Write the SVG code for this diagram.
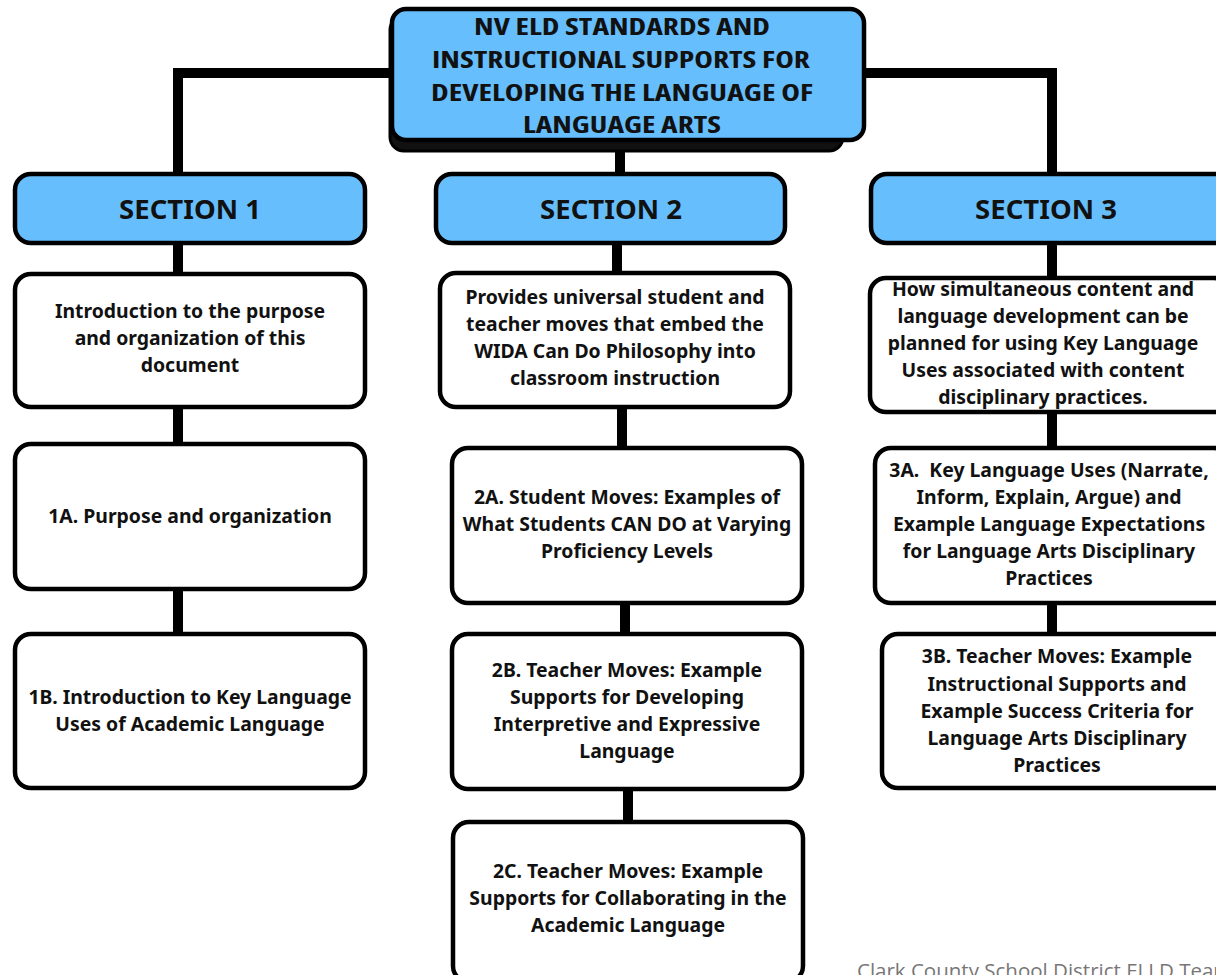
<svg xmlns="http://www.w3.org/2000/svg" width="1216" height="975" viewBox="0 0 1216 975">
<style>
.conn{stroke:#000;stroke-width:10;fill:none;stroke-linecap:square}
.blue{fill:#66BEFD;stroke:#000;stroke-width:4.5}
.white{fill:#fff;stroke:#000;stroke-width:4.5}
.t{font-family:"Noto Sans","Open Sans",sans-serif;font-weight:700;font-size:19.4px;fill:#111;text-anchor:middle}
.sec{font-family:"Noto Sans","Open Sans",sans-serif;font-weight:700;font-size:27.5px;fill:#111;text-anchor:middle}
.title{font-family:"Open Sans","Noto Sans",sans-serif;font-weight:700;font-stretch:condensed;font-size:23px;fill:#111;text-anchor:middle}
.foot{font-family:"Open Sans","Noto Sans",sans-serif;font-size:20.5px;fill:#777}
</style>
<rect width="1216" height="975" fill="#fff"/>
<g id="connectors">
<polyline class="conn" points="391,73 178,73 178,175"/>
<polyline class="conn" points="865,73 1052,73 1052,175"/>
<line class="conn" x1="620" y1="150" x2="620" y2="175"/>
<line class="conn" x1="178" y1="243" x2="178" y2="273"/>
<line class="conn" x1="178" y1="407" x2="178" y2="443"/>
<line class="conn" x1="178" y1="589" x2="178" y2="633"/>
<line class="conn" x1="617" y1="243" x2="617" y2="272"/>
<line class="conn" x1="622" y1="407" x2="622" y2="448"/>
<line class="conn" x1="625" y1="603" x2="625" y2="633"/>
<line class="conn" x1="628" y1="789" x2="628" y2="822"/>
<line class="conn" x1="1052" y1="243" x2="1052" y2="277"/>
<line class="conn" x1="1052" y1="412" x2="1052" y2="447"/>
<line class="conn" x1="1052" y1="603" x2="1052" y2="633"/>
</g>
<g id="title">
<rect x="390" y="16" width="453" height="135" rx="14" fill="#111" stroke="#000" stroke-width="3"/>
<rect class="blue" x="392" y="9" width="472" height="131" rx="14"/>
<text class="title" x="622" y="35" textLength="296" lengthAdjust="spacingAndGlyphs">NV ELD STANDARDS AND</text>
<text class="title" x="621" y="68" textLength="378" lengthAdjust="spacingAndGlyphs">INSTRUCTIONAL SUPPORTS FOR</text>
<text class="title" x="622" y="101" textLength="382" lengthAdjust="spacingAndGlyphs">DEVELOPING THE LANGUAGE OF</text>
<text class="title" x="622" y="133" textLength="198" lengthAdjust="spacingAndGlyphs">LANGUAGE ARTS</text>
</g>
<g id="section1">
<rect class="blue" x="15" y="174" width="350" height="69" rx="16"/>
<text class="sec" x="190" y="219">SECTION 1</text>
</g>
<g id="section2">
<rect class="blue" x="436" y="174" width="349" height="69" rx="16"/>
<text class="sec" x="611" y="219">SECTION 2</text>
</g>
<g id="section3">
<rect class="blue" x="871" y="174" width="360" height="69" rx="16"/>
<text class="sec" x="1046" y="219">SECTION 3</text>
</g>
<g id="s1intro">
<rect class="white" x="15" y="274" width="350" height="133" rx="16"/>
<text class="t" x="190" y="318">Introduction to the purpose</text>
<text class="t" x="190" y="345">and organization of this</text>
<text class="t" x="190" y="372">document</text>
</g>
<g id="s1a">
<rect class="white" x="15" y="444" width="350" height="145" rx="16"/>
<text class="t" x="190" y="523">1A. Purpose and organization</text>
</g>
<g id="s1b">
<rect class="white" x="15" y="634" width="350" height="154" rx="16"/>
<text class="t" x="190" y="704">1B. Introduction to Key Language</text>
<text class="t" x="190" y="731">Uses of Academic Language</text>
</g>
<g id="s2intro">
<rect class="white" x="440" y="273" width="350" height="134" rx="16"/>
<text class="t" x="615" y="304">Provides universal student and</text>
<text class="t" x="615" y="331">teacher moves that embed the</text>
<text class="t" x="615" y="358">WIDA Can Do Philosophy into</text>
<text class="t" x="615" y="385">classroom instruction</text>
</g>
<g id="s2a">
<rect class="white" x="452" y="448" width="350" height="155" rx="16"/>
<text class="t" x="627" y="504">2A. Student Moves: Examples of</text>
<text class="t" x="627" y="531">What Students CAN DO at Varying</text>
<text class="t" x="627" y="558">Proficiency Levels</text>
</g>
<g id="s2b">
<rect class="white" x="452" y="634" width="350" height="155" rx="16"/>
<text class="t" x="627" y="677">2B. Teacher Moves: Example</text>
<text class="t" x="627" y="704">Supports for Developing</text>
<text class="t" x="627" y="731">Interpretive and Expressive</text>
<text class="t" x="627" y="758">Language</text>
</g>
<g id="s2c">
<rect class="white" x="453" y="822" width="350" height="160" rx="16"/>
<text class="t" x="628" y="878">2C. Teacher Moves: Example</text>
<text class="t" x="628" y="905">Supports for Collaborating in the</text>
<text class="t" x="628" y="932">Academic Language</text>
</g>
<g id="s3intro">
<rect class="white" x="870" y="278" width="360" height="134" rx="16"/>
<text class="t" x="1043" y="296">How simultaneous content and</text>
<text class="t" x="1043" y="323">language development can be</text>
<text class="t" x="1043" y="350">planned for using Key Language</text>
<text class="t" x="1043" y="377">Uses associated with content</text>
<text class="t" x="1043" y="404">disciplinary practices.</text>
</g>
<g id="s3a">
<rect class="white" x="875" y="448" width="355" height="155" rx="16"/>
<text class="t" x="1049" y="477" style="white-space:pre">3A.  Key Language Uses (Narrate,</text>
<text class="t" x="1049" y="504">Inform, Explain, Argue) and</text>
<text class="t" x="1049" y="531">Example Language Expectations</text>
<text class="t" x="1049" y="558">for Language Arts Disciplinary</text>
<text class="t" x="1049" y="585">Practices</text>
</g>
<g id="s3b">
<rect class="white" x="882" y="634" width="350" height="154" rx="16"/>
<text class="t" x="1057" y="663">3B. Teacher Moves: Example</text>
<text class="t" x="1057" y="691">Instructional Supports and</text>
<text class="t" x="1057" y="718">Example Success Criteria for</text>
<text class="t" x="1057" y="745">Language Arts Disciplinary</text>
<text class="t" x="1057" y="772">Practices</text>
</g>
<text class="foot" x="857" y="978">Clark County School District ELLD Team</text>
</svg>
